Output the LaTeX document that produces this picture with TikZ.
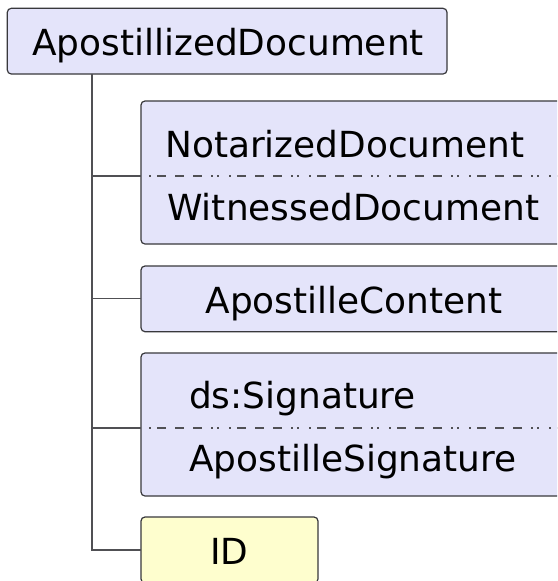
\documentclass[tikz,border=0pt]{standalone}
\usepackage{fontspec}
\setmainfont{DejaVu Sans}
\definecolor{boxfill}{RGB}{228,228,250}
\definecolor{keyfill}{RGB}{254,254,206}
\definecolor{boxline}{RGB}{56,56,60}
\definecolor{linkline}{RGB}{80,80,84}
\tikzset{
  elem/.style={draw=boxline, line width=1.2pt, fill=boxfill, rounded corners=4pt,
    inner sep=0pt, outer sep=0pt, anchor=north west},
  keyelem/.style={elem, fill=keyfill},
  label/.style={inner sep=0pt, font=\fontsize{35.9}{43}\selectfont, text=black},
  link/.style={draw=linkline, line width=1.1pt},
  choicesep/.style={draw=linkline, line width=1.1pt,
    dash pattern=on 2pt off 6pt on 9pt off 9pt on 9pt off 9pt on 9pt off 9pt on 2pt off 4pt on 2pt off 10pt,
    dash phase=-8pt}
}
\begin{document}
\begin{tikzpicture}[x=1pt, y=-1pt]
\useasboundingbox (0,0) rectangle (557,581);
\clip (0,0) rectangle (557,581);
\fill[white] (0,0) rectangle (557,581);

% root element
\node[elem, minimum width=439.7pt, minimum height=65.7pt] (root) at (7.3,8.3) {};
\node[label, anchor=base] (rootlbl) at (228,55) {ApostillizedDocument};

% choice of notarized / witnessed document
\node[elem, minimum width=427pt, minimum height=143pt] (doc) at (141,101) {};
\coordinate (docsep) at (141,176);
\draw[choicesep] (docsep) -- (doc.east |- docsep);
\node[label, anchor=base west] (notar) at (165,157) {NotarizedDocument};
\node[label, anchor=base west] (witn) at (167,220) {WitnessedDocument};

% apostille content
\node[elem, minimum width=427pt, minimum height=65.7pt] (content) at (141,266) {};
\node[label, anchor=base] (contentlbl) at (354,313) {ApostilleContent};

% choice of signature
\node[elem, minimum width=427pt, minimum height=143pt] (sig) at (141,353) {};
\coordinate (sigsep) at (141,428);
\draw[choicesep] (sigsep) -- (sig.east |- sigsep);
\node[label, anchor=base west] (dssig) at (189,408) {ds:Signature};
\node[label, anchor=base west] (apsig) at (189,471) {ApostilleSignature};

% ID attribute
\node[keyelem, minimum width=177pt, minimum height=66pt] (id) at (141,517) {};
\node[label, anchor=base] (idlbl) at (229.5,564) {ID};

% tree connectors
\coordinate (trunktop) at (92,74);
\coordinate (trunkend) at (92,550);
\draw[link] (root.south -| trunktop) -- (trunkend) -- (id.west);
\draw[link] (trunktop |- docsep) -- (docsep);
\draw[link] (trunktop |- content.west) -- (content.west);
\draw[link] (trunktop |- sigsep) -- (sigsep);
\end{tikzpicture}
\end{document}
